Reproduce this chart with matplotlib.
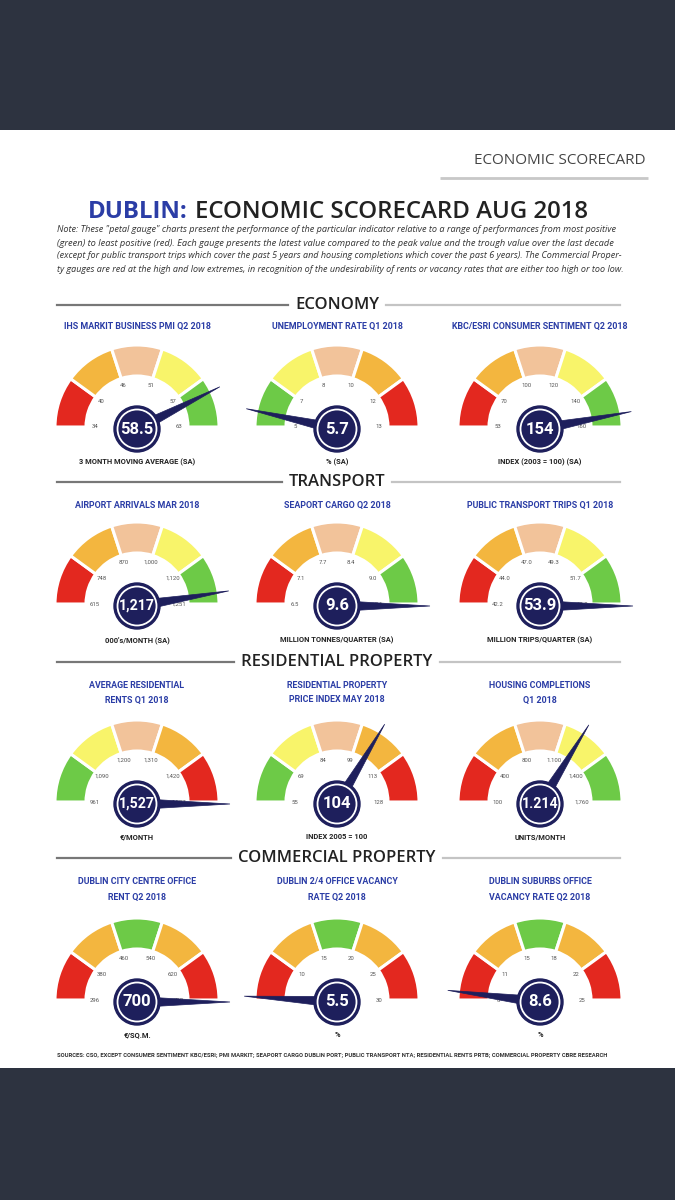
import matplotlib
matplotlib.use("Agg")
import matplotlib.pyplot as plt
from matplotlib.patches import Wedge, Circle, Polygon, Rectangle
import numpy as np

# ---------------- data ----------------
sections = ["ECONOMY", "TRANSPORT", "RESIDENTIAL PROPERTY", "COMMERCIAL PROPERTY"]

titles = [
    "IHS MARKIT BUSINESS PMI Q2 2018", "UNEMPLOYMENT RATE Q1 2018", "KBC/ESRI CONSUMER SENTIMENT Q2 2018",
    "AIRPORT ARRIVALS MAR 2018", "SEAPORT CARGO Q2 2018", "PUBLIC TRANSPORT TRIPS Q1 2018",
    "AVERAGE RESIDENTIAL\nRENTS Q1 2018", "RESIDENTIAL PROPERTY\nPRICE INDEX MAY 2018", "HOUSING COMPLETIONS\nQ1 2018",
    "DUBLIN CITY CENTRE OFFICE\nRENT Q2 2018", "DUBLIN 2/4 OFFICE VACANCY\nRATE Q2 2018", "DUBLIN SUBURBS OFFICE\nVACANCY RATE Q2 2018",
]

units = [
    "3 MONTH MOVING AVERAGE (SA)", "% (SA)", "INDEX (2003 = 100) (SA)",
    "000's/MONTH (SA)", "MILLION TONNES/QUARTER (SA)", "MILLION TRIPS/QUARTER (SA)",
    "€/MONTH", "INDEX 2005 = 100", "UNITS/MONTH",
    "€/SQ.M.", "%", "%",
]

values = [58.5, 5.7, 154, 1217, 9.6, 53.9, 1527, 104, 1214, 700, 5.5, 8.6]
value_labels = ["58.5", "5.7", "154", "1,217", "9.6", "53.9", "1,527", "104", "1.214", "700", "5.5", "8.6"]

ticks = [
    [34, 40, 46, 51, 57, 63],
    [5, 7, 8, 10, 12, 13],
    [53, 70, 100, 120, 140, 160],
    [615, 748, 870, 1000, 1120, 1251],
    [6.5, 7.1, 7.7, 8.4, 9.0, 9.6],
    [42.2, 44.0, 47.0, 49.3, 51.7, 53.9],
    [961, 1090, 1200, 1310, 1420, 1527],
    [55, 69, 84, 99, 113, 128],
    [100, 400, 800, 1100, 1400, 1760],
    [296, 380, 460, 540, 620, 700],
    [5, 10, 15, 20, 25, 30],
    [8, 11, 15, 18, 22, 25],
]
tick_labels = [
    ["34", "40", "46", "51", "57", "63"],
    ["5", "7", "8", "10", "12", "13"],
    ["53", "70", "100", "120", "140", "160"],
    ["615", "748", "870", "1,000", "1,120", "1,251"],
    ["6.5", "7.1", "7.7", "8.4", "9.0", "9.6"],
    ["42.2", "44.0", "47.0", "49.3", "51.7", "53.9"],
    ["961", "1,090", "1,200", "1,310", "1,420", "1,527"],
    ["55", "69", "84", "99", "113", "128"],
    ["100", "400", "800", "1.100", "1,400", "1,760"],
    ["296", "380", "460", "540", "620", "700"],
    ["5", "10", "15", "20", "25", "30"],
    ["8", "11", "15", "18", "22", "25"],
]

good_high = ["red", "orange", "peach", "yellow", "green"]
good_low = ["green", "yellow", "peach", "orange", "red"]
mid_good = ["red", "orange", "green", "orange", "red"]
segments = [good_high, good_low, good_high,
            good_high, good_high, good_high,
            good_low, good_low, good_high,
            mid_good, mid_good, mid_good]

note_lines = [
    "Note: These \"petal gauge\" charts present the performance of the particular indicator relative to a range of performances from most positive",
    "(green) to least positive (red). Each gauge presents the latest value compared to the peak value and the trough value over the last decade",
    "(except for public transport trips which cover the past 5 years and housing completions which cover the past 6 years). The Commercial Proper-",
    "ty gauges are red at the high and low extremes, in recognition of the undesirability of rents or vacancy rates that are either too high or too low.",
]
sources = ("SOURCES: CSO, EXCEPT CONSUMER SENTIMENT KBC/ESRI; PMI MARKIT; SEAPORT CARGO DUBLIN PORT; "
           "PUBLIC TRANSPORT NTA; RESIDENTIAL RENTS PRTB; COMMERCIAL PROPERTY CBRE RESEARCH")

# ---------------- style ----------------
COL = {"red": "#e3281f", "orange": "#f3b63f", "peach": "#f2c39a",
       "yellow": "#f8f46a", "green": "#6dca47"}
NAVY = "#1e1f5c"
BLUE = "#2b3da6"
DARK_BG = "#2d3340"
HEAD_FONT = ["Open Sans", "DejaVu Sans"]
SUB_FONT = ["Roboto", "DejaVu Sans"]

W, H = 675, 1200
def Y(y):
    return H - y

fig = plt.figure(figsize=(6.75, 12), dpi=100)
fig.patch.set_facecolor(DARK_BG)
ax = fig.add_axes([0, 0, 1, 1])
ax.set_xlim(0, W)
ax.set_ylim(0, H)
ax.axis("off")
renderer = fig.canvas.get_renderer()

# white page
ax.add_patch(Rectangle((0, Y(1068)), W, 1068 - 130, fc="white", ec="none", zorder=0))

# header top right
ax.text(645, Y(161), "ECONOMIC SCORECARD", ha="right", va="center", fontsize=11,
        color="#444444", family=HEAD_FONT)
ax.plot([440, 648], [Y(178), Y(178)], color="#c8c8c8", lw=2, solid_capstyle="butt")

# main title
t1 = ax.text(0, Y(212), "DUBLIN:", ha="left", va="center", fontsize=17.3,
             color=BLUE, family=HEAD_FONT, fontweight="bold")
t2 = ax.text(0, Y(212), "ECONOMIC SCORECARD AUG 2018", ha="left", va="center", fontsize=17.3,
             color="#222222", family=HEAD_FONT, fontweight="semibold")
w1 = t1.get_window_extent(renderer).width
w2 = t2.get_window_extent(renderer).width
gap = 7
x0 = 338 - (w1 + gap + w2) / 2
t1.set_x(x0)
t2.set_x(x0 + w1 + gap)

# note text, each line fitted to the text block width
note_y = [230, 243, 256, 269]
for i, line in enumerate(note_lines):
    t = ax.text(57, Y(note_y[i]), line, ha="left", va="center", fontsize=6,
                style="italic", color="#333333", family=HEAD_FONT)
    wd = t.get_window_extent(renderer).width
    target = 562 if i < 3 else 565
    t.set_fontsize(6 * target / wd)

# section headers
section_y = [305, 482, 662, 858]
for s, sy in zip(sections, section_y):
    t = ax.text(337, Y(sy), s, ha="center", va="center", fontsize=12,
                color="#222222", family=HEAD_FONT, fontweight="semibold")
    wd = t.get_window_extent(renderer).width
    ax.plot([57, 337 - wd / 2 - 7], [Y(sy), Y(sy)], color="#777777", lw=1.6)
    ax.plot([337 + wd / 2 + 7, 620], [Y(sy), Y(sy)], color="#c4c4c4", lw=1.6)

# gauges
col_x = [137, 337, 540]
row_base = [427, 604, 802, 1000]
row_title_y = [[326], [505], [686, 700], [882, 897]]
row_unit_y = [462, 640, 837, 1035]
R_OUT, R_IN, R_LAB = 82, 51, 42
bound_angles = [180, 144, 108, 72, 36, 0]

for k in range(12):
    r, c = divmod(k, 3)
    cx, cy = col_x[c], Y(row_base[r])
    # segments
    for j, cname in enumerate(segments[k]):
        a1 = bound_angles[j + 1]
        a2 = bound_angles[j]
        ax.add_patch(Wedge((cx, cy), R_OUT, a1, a2, width=R_OUT - R_IN,
                           fc=COL[cname], ec="white", lw=2.2, zorder=2))
    # tick labels
    for ang, lab in zip(bound_angles, tick_labels[k]):
        rr = R_LAB if ang in (0, 180) else R_LAB + 2
        lx = cx + rr * np.cos(np.radians(ang))
        ly = cy + rr * np.sin(np.radians(ang))
        ax.text(lx, ly, lab, ha="center", va="center", fontsize=4.3,
                color="#555555", family=SUB_FONT, zorder=3)
    # needle and central disc (disc sits slightly below the gauge baseline)
    dc = np.array([cx, cy - 2])
    phi = np.radians(np.interp(values[k], ticks[k], bound_angles))
    d = np.array([np.cos(phi), np.sin(phi)])
    p = np.array([-np.sin(phi), np.cos(phi)])
    L, hw = 93, 5.5
    ax.add_patch(Polygon([dc + p * hw, dc - p * hw, dc + d * L], closed=True,
                         fc=NAVY, ec=NAVY, lw=0.5, zorder=4))
    ax.add_patch(Circle(dc, 23, fc=NAVY, ec=NAVY, zorder=5))
    ax.add_patch(Circle(dc, 19.5, fc="none", ec="white", lw=1.3, zorder=6))
    fs = 12 if len(value_labels[k]) <= 4 else 10.2
    ax.text(dc[0], dc[1], value_labels[k], ha="center", va="center", fontsize=fs,
            color="white", fontweight="bold", family=SUB_FONT, zorder=7)
    # title
    for line, ty in zip(titles[k].split("\n"), row_title_y[r]):
        ax.text(cx, Y(ty), line, ha="center", va="center", fontsize=6.4,
                color=BLUE, fontweight="bold", family=SUB_FONT)
    # units
    ax.text(cx, Y(row_unit_y[r]), units[k], ha="center", va="center", fontsize=5.4,
            color="#222222", fontweight="bold", family=SUB_FONT)

# sources
t = ax.text(57, Y(1055), sources, ha="left", va="center", fontsize=4,
            color="#333333", fontweight="bold", family=SUB_FONT)
wd = t.get_window_extent(renderer).width
t.set_fontsize(4 * 550 / wd)

fig.savefig("out.png", dpi=100, facecolor=fig.get_facecolor())
